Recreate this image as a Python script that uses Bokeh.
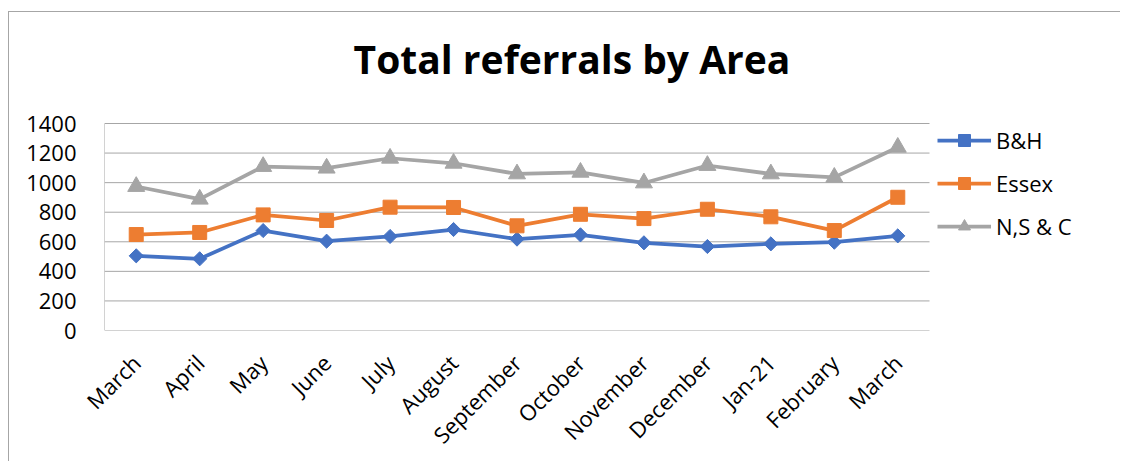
import math
from bokeh.plotting import figure
from bokeh.models import Legend, LegendItem, Label, FixedTicker, Range1d
from bokeh.embed import file_html
from bokeh.resources import INLINE

months = ["March", "April", "May", "June", "July", "August", "September",
          "October", "November", "December", "Jan-21", "February", "March"]
bh = [505, 485, 676, 604, 636, 683, 618, 647, 593, 568, 586, 597, 640]
essex = [649, 663, 782, 744, 834, 832, 708, 786, 757, 820, 769, 676, 901]
nsc = [974, 888, 1109, 1098, 1165, 1131, 1059, 1070, 998, 1116, 1059, 1036, 1239]
y_ticks = [0, 200, 400, 600, 800, 1000, 1200, 1400]
title_text = "Total referrals by Area"

BLUE, ORANGE, GREY = "#4472C4", "#ED7D31", "#A5A5A5"
GRID = "#a6a6a6"
FONT = "Open Sans"

# layout geometry (pixels)
CANVAS_X, CANVAS_Y = 9, 12
W, H = 1112, 450
PLOT_L, PLOT_R, PLOT_T, PLOT_B = 104, 929, 123, 330   # visible plot area
FRAME_T, FRAME_R = 32, 1111                          # extended frame
n = len(months)
y_max = y_ticks[-1]
px_per_band = (PLOT_R - PLOT_L) / n
px_per_unit = (PLOT_B - PLOT_T) / y_max
x_end = -0.5 + (FRAME_R - PLOT_L) / px_per_band
y_end = y_max + (PLOT_T - FRAME_T) / px_per_unit

xs = list(range(n))

p = figure(width=W, height=H, output_backend="svg", toolbar_location=None,
           x_range=Range1d(-0.5, x_end), y_range=Range1d(0, y_end),
           min_border_left=PLOT_L - CANVAS_X, min_border_right=CANVAS_X + W - FRAME_R,
           min_border_top=FRAME_T - CANVAS_Y, min_border_bottom=CANVAS_Y + H - PLOT_B)
p.styles = {"margin-left": "8px", "margin-top": "11px",
            "border-left": "1px solid #a6a6a6", "border-top": "1px solid #a6a6a6"}
p.outline_line_color = None
p.background_fill_color = "white"
p.border_fill_color = "white"
p.title.visible = False

# axes
p.xaxis.ticker = FixedTicker(ticks=xs)
p.xaxis.major_label_overrides = {i: m for i, m in enumerate(months)}
p.xaxis.major_label_orientation = math.pi / 4
p.yaxis.ticker = FixedTicker(ticks=y_ticks)
for ax in (p.xaxis, p.yaxis):
    ax.axis_line_color = None
    ax.major_tick_line_color = None
    ax.minor_tick_line_color = None
    ax.major_label_text_font = FONT
    ax.major_label_text_font_size = "22px"
    ax.major_label_text_color = "#000000"
p.yaxis.major_label_standoff = 22
p.xaxis.major_label_standoff = 22
p.xgrid.grid_line_color = None
p.ygrid.grid_line_color = None

# gridlines and left axis line limited to the plot area
p.segment(x0=[-0.5] * len(y_ticks), x1=[n - 0.5] * len(y_ticks),
          y0=y_ticks, y1=y_ticks, line_color=GRID, line_width=1)
p.segment(x0=[-0.5], x1=[-0.5], y0=[0], y1=[y_max], line_color=GRID, line_width=1)

l1 = p.line(xs, bh, line_color=BLUE, line_width=3.75)
s1 = p.scatter(xs, bh, marker="square", angle=math.pi / 4, size=10,
               fill_color=BLUE, line_color=BLUE)
l2 = p.line(xs, essex, line_color=ORANGE, line_width=3.75)
s2 = p.scatter(xs, essex, marker="square", size=14, fill_color=ORANGE, line_color=ORANGE)
l3 = p.line(xs, nsc, line_color=GREY, line_width=3.75)
s3 = p.scatter(xs, nsc, marker="triangle", size=17, fill_color=GREY, line_color=GREY)

legend = Legend(items=[LegendItem(label="B&H", renderers=[l1, s1]),
                       LegendItem(label="Essex", renderers=[l2, s2]),
                       LegendItem(label="N,S & C", renderers=[l3, s3])],
                location=(937 - PLOT_L, 89), margin=0, padding=0,
                glyph_width=54, glyph_height=30, label_standoff=5,
                spacing=13, border_line_color=None,
                label_text_font=FONT, label_text_font_size="22px",
                label_text_color="#000000", background_fill_alpha=0)
p.add_layout(legend)

title = Label(x=571.5 - PLOT_L, y=PLOT_B - 72 + 14, x_units="screen", y_units="screen",
              text=title_text, text_align="center", text_baseline="alphabetic",
              text_font=FONT, text_font_size="39px", text_font_style="bold",
              text_color="#000000")
p.add_layout(title)

open("out.html", "w").write(file_html(p, INLINE))
